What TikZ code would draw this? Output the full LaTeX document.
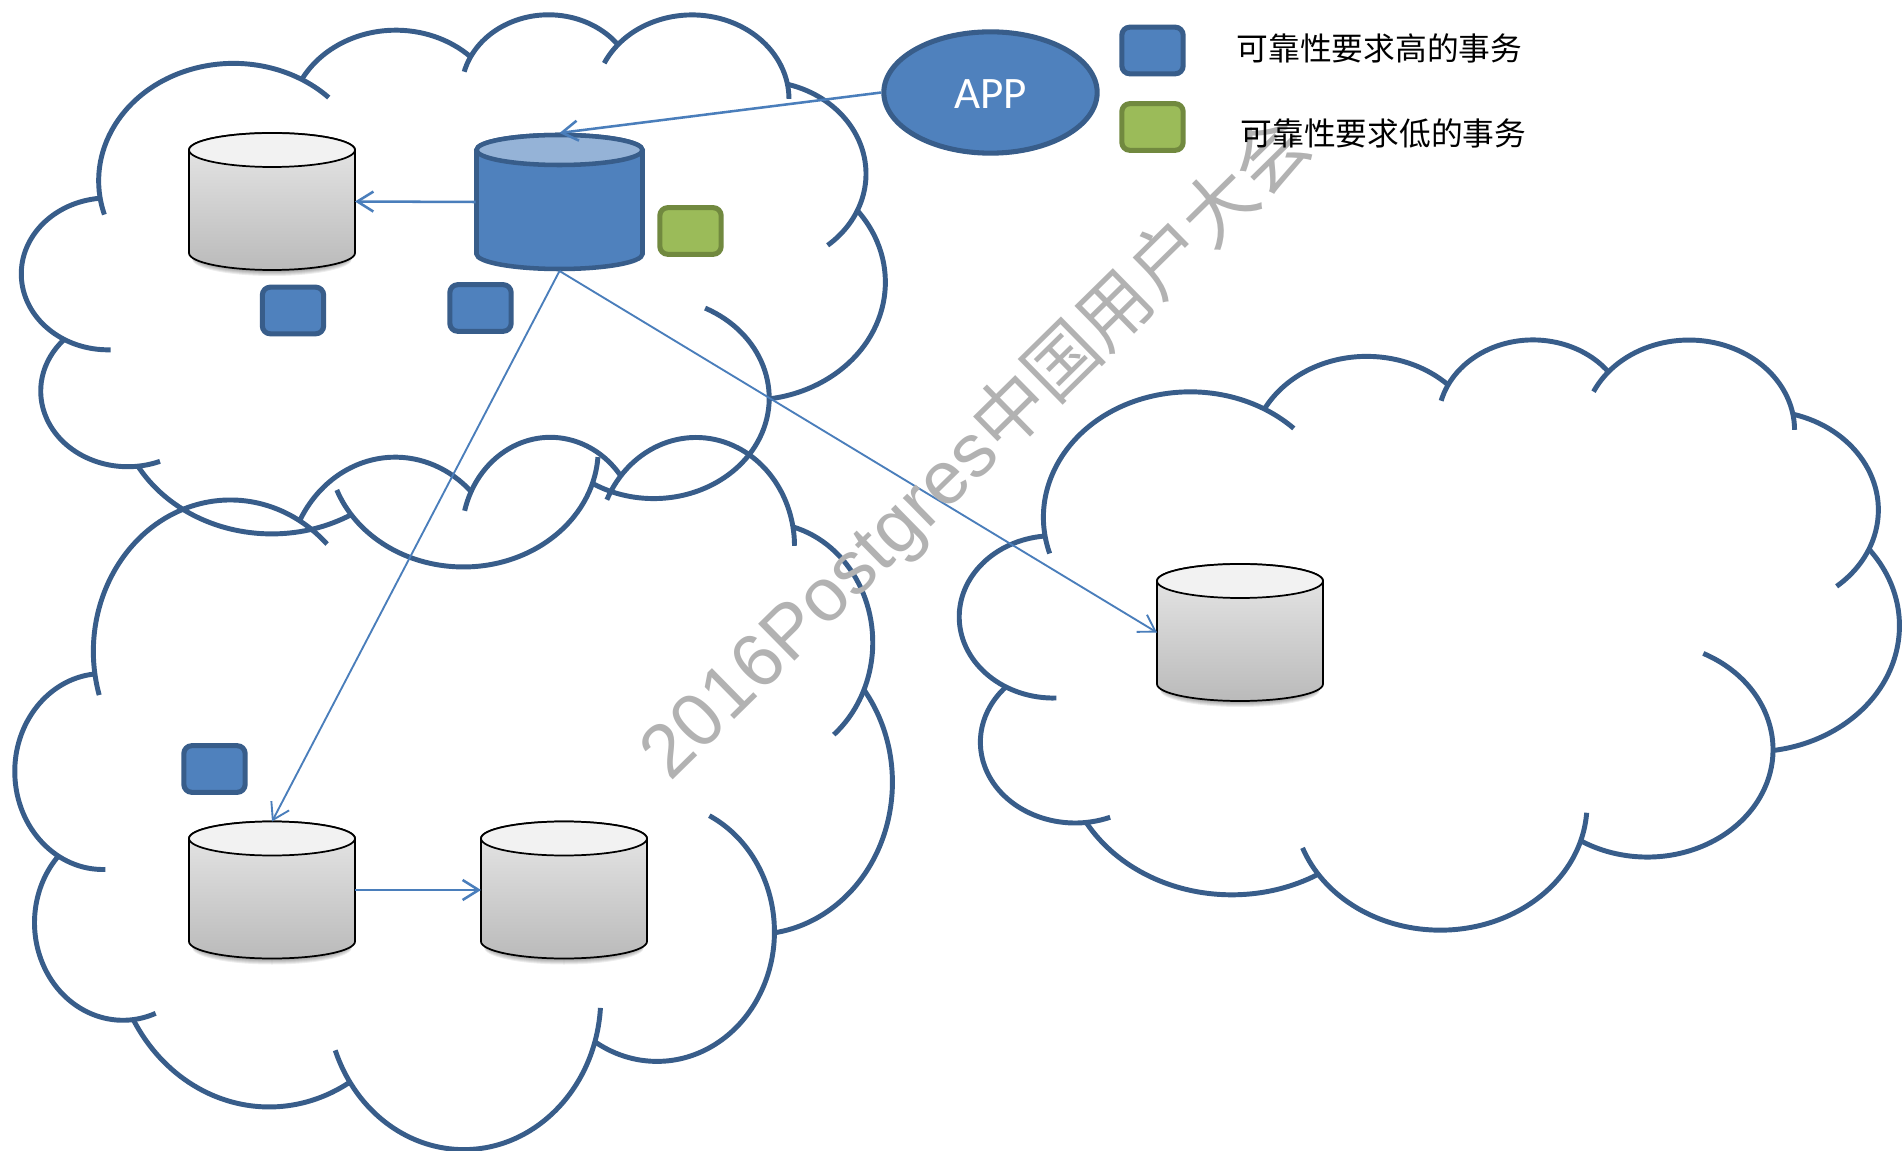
\documentclass[tikz,border=0pt]{standalone}
\usepackage{fontspec}
\setmainfont{Liberation Sans}
\newfontfamily\cjk{Noto Sans CJK SC}
\newfontfamily\appfont{Carlito}
\usetikzlibrary{arrows.meta,shapes.geometric}
\definecolor{bluefill}{HTML}{4F81BD}
\definecolor{blueline}{HTML}{385D8A}
\definecolor{bluetop}{HTML}{95B3D7}
\definecolor{greenfill}{HTML}{9BBB59}
\definecolor{greenline}{HTML}{71893F}
\definecolor{arrowblue}{HTML}{4A7EBB}
\definecolor{mark}{HTML}{B2B2B2}
\tikzset{
  cloudline/.style={draw=blueline,line width=3.7pt},
  dbnode/.style={rectangle,draw=none,inner sep=0pt,outer sep=0pt,minimum width=124.5pt,minimum height=102.75pt},
  task/.style={rectangle,rounded corners=6pt,line width=3.8pt,inner sep=0pt,outer sep=1.9pt,minimum width=46pt,minimum height=35pt},
  hightask/.style={task,fill=bluefill,draw=blueline},
  lowtask/.style={task,fill=greenfill,draw=greenline},
  link/.style={draw=arrowblue,line width=1.9pt,-{Straight Barb[length=12pt,width=15pt]}},
  thinlink/.style={link,line width=1.4pt},
  legendtext/.style={inner sep=0pt,font=\cjk\fontsize{23.8}{28}\selectfont,anchor=west}
}
\newcommand{\graydb}[3]{%
  \node[dbnode] (#1) at (#2,#3) {};
  \begin{scope}[shift={(#2,#3)},x=.75pt,y=.75pt]
    \foreach \o in {1,...,6}{\fill[black,opacity=.07] (-80,-51.5-\o) arc[start angle=180,end angle=360,x radius=80,y radius=17] -- cycle;
      \fill[black,opacity=.07] (-80,-51.5-\o) rectangle (80,-47-\o);}
    \draw[line width=1.3pt,top color=gray!18!white,bottom color=black!27] (-83,51.5) -- (-83,-51.5) arc[start angle=180,end angle=360,x radius=83,y radius=17] -- (83,51.5) arc[start angle=0,end angle=180,x radius=83,y radius=17] -- cycle;
    \draw[line width=1.3pt,fill=black!5] (0,51.5) ellipse[x radius=83,y radius=17];
  \end{scope}}
% one lobe of the cloud: x radius, y radius, start, sweep, extra degrees at the start, extra degrees at the end
\newcommand{\lobe}[6]{%
  \pgfmathsetmacro\tS{atan2(#1*sin(#3),#2*cos(#3))}%
  \pgfmathsetmacro\tE{atan2(#1*sin(#3+#4),#2*cos(#3+#4))}%
  \pgfmathsetmacro\tD{mod(\tE-\tS+720,360)}%
  \pgfmathsetmacro\cX{\pX-#1*cos(\tS)}%
  \pgfmathsetmacro\cY{\pY-#2*sin(\tS)}%
  \pgfmathsetmacro\aS{\tS-#5}%
  \pgfmathsetmacro\aD{\tD+#5+#6}%
  \pgfmathsetmacro\qX{\cX+#1*cos(\aS)}%
  \pgfmathsetmacro\qY{\cY+#2*sin(\aS)}%
  \draw[cloudline] (\qX,\qY) arc[start angle=\aS,delta angle=\aD,x radius=#1,y radius=#2];
  \pgfmathsetmacro\pX{\cX+#1*cos(\tS+\tD)}%
  \pgfmathsetmacro\pY{\cY+#2*sin(\tS+\tD)}%
}
\newcommand{\cloudshape}{%
  \def\pX{390}\def\pY{1437}%
  \lobe{675.3}{919.0}{-190.4875}{123.7805}{9}{14.5}
  \lobe{533.3}{726.7}{-144.1024}{89.9452}{0}{0}
  \lobe{436.5}{594.5}{-145.8079}{99.7230}{12}{0}
  \lobe{485.7}{659.5}{-130.9861}{117.2417}{15}{10}
  \lobe{533.3}{727.3}{-78.7089}{109.0269}{0}{27}
  \lobe{677.5}{922.0}{-46.2673}{130.2690}{0}{0}
  \lobe{578.5}{786.7}{0.6250}{114.0333}{64}{0}
  \lobe{675.2}{921.5}{22.4516}{115.1726}{13}{13.5}
  \lobe{772.0}{1054.3}{66.2426}{75.7110}{0}{0}
  \lobe{436.0}{591.8}{-274.9421}{146.7356}{15}{0}
  \lobe{434.5}{594.5}{-246.8285}{152.5189}{32}{0}
}
\begin{document}
\begin{tikzpicture}[x=.75pt,y=-.75pt]
  \useasboundingbox (0,0) rectangle (1903,1151);
  \fill[white] (0,0) rectangle (1903,1151);
  \begin{scope}[shift={(22,13)},x=.14983pt,y=-.09583pt]\cloudshape\end{scope}
  \begin{scope}[shift={(15.5,435)},x=.15217pt,y=-.12361pt]\cloudshape\end{scope}
  \begin{scope}[shift={(960,338)},x=.16302pt,y=-.10243pt]\cloudshape\end{scope}

  \graydb{dbB}{272}{201.5}
  \graydb{dbC}{272}{890}
  \graydb{dbD}{564}{890}
  \graydb{dbE}{1240}{632.5}

  \node[dbnode,minimum width=126pt,minimum height=103.5pt] (dbA) at (559.5,202) {};
  \begin{scope}[shift={(559.5,202)},x=.75pt,y=.75pt]
    \draw[line width=3.4pt,draw=blueline,fill=bluefill] (-83,52) -- (-83,-52) arc[start angle=180,end angle=360,x radius=83,y radius=15] -- (83,52) arc[start angle=0,end angle=180,x radius=83,y radius=15] -- cycle;
    \draw[line width=3.4pt,draw=blueline,fill=bluetop] (0,52) ellipse[x radius=83,y radius=15];
  \end{scope}

  \node[hightask] (t1) at (293,310.5) {};
  \node[hightask] (t2) at (480.5,308) {};
  \node[lowtask] (t3) at (690.5,231) {};
  \node[hightask] (t4) at (214.5,769) {};
  \node[hightask] (lg1) at (1152.5,50.5) {};
  \node[lowtask] (lg2) at (1152.5,127) {};

  \node[ellipse,draw=blueline,fill=bluefill,line width=3.8pt,inner sep=0pt,outer sep=1.9pt,minimum width=160pt,minimum height=91pt,text=white,text height=23.8pt,text depth=0pt,font=\appfont\fontsize{33.75}{40}\selectfont] (app) at (990.5,92.5) {APP};

  \draw[link] (app.west) -- (dbA.north);
  \draw[link] (dbA.west) -- (dbB.east);
  \draw[thinlink] (dbA.south) -- (dbC.north);
  \draw[thinlink] (dbA.south) -- (dbE.west);
  \draw[link] (dbC.east) -- (dbD.west);

  \node[text=mark,rotate=44.5,inner sep=0pt,font=\fontsize{56.5}{60}\selectfont] (wm) at (977,449) {2016Postgres{\cjk\fontsize{55}{60}\selectfont 中国用户大会}};

  \node[legendtext] (lt1) at (1236.5,48) {可靠性要求高的事务};
  \node[legendtext] (lt2) at (1240.5,133) {可靠性要求低的事务};
\end{tikzpicture}
\end{document}
